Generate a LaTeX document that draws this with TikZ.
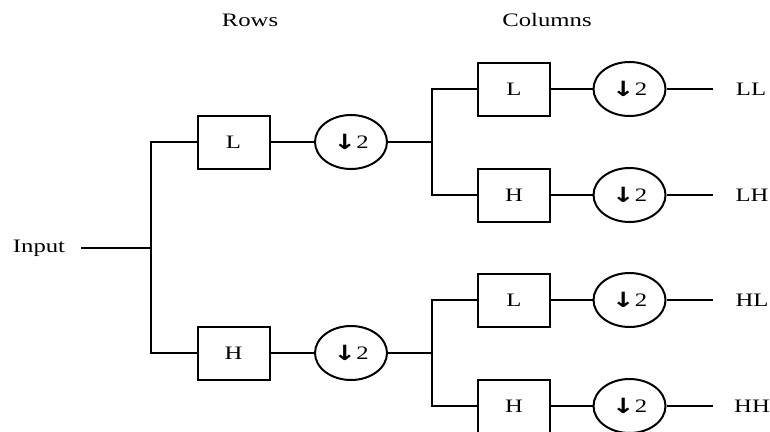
\documentclass[tikz,border=0pt]{standalone}
\usepackage{fontspec}
\setmainfont{Liberation Serif}
\newfontfamily\arrowfont{DejaVu Sans}
\usetikzlibrary{shapes.geometric}
\newcommand{\wide}[1]{\scalebox{1.3}[1]{#1}}
\newcommand{\dtwo}{\wide{\raisebox{-1pt}{\arrowfont\bfseries\fontsize{21}{22}\selectfont ↓}2}}
\begin{document}
\begin{tikzpicture}[x=1pt,y=-1pt,
  every node/.style={font=\fontsize{19}{22}\selectfont, text=black},
  filt/.style={draw=black, line width=2pt, minimum width=72pt, minimum height=53pt, inner sep=0pt},
  down/.style={draw=black, ellipse, line width=2pt, minimum width=72pt, minimum height=54pt, inner sep=0pt},
  lbl/.style={inner sep=0pt},
  wire/.style={line width=2pt}]
\useasboundingbox (0,0) rectangle (770,431);
% titles
\node[lbl] (rows) at (250,20) {\wide{Rows}};
\node[lbl] (cols) at (547,20) {\wide{Columns}};
% input
\node[lbl] (inp) at (39,248) {\wide{Input}};
\coordinate (instart) at (81,248);
\coordinate (s1) at (151,248);
% row stage
\node[filt] (rL) at (233.5,142) {\wide{L}};
\node[filt] (rH) at (233.5,353) {\wide{H}};
\node[down] (rd1) at (351,142) {\dtwo};
\node[down] (rd2) at (351,353) {\dtwo};
\coordinate (s2) at (432,142);
\coordinate (s3) at (432,353);
% column stage
\node[filt] (cLL) at (514,89) {\wide{L}};
\node[filt] (cLH) at (514,195) {\wide{H}};
\node[filt] (cHL) at (514,300) {\wide{L}};
\node[filt] (cHH) at (514,406) {\wide{H}};
\node[down] (dLL) at (629.5,89) {\dtwo};
\node[down] (dLH) at (629.5,195) {\dtwo};
\node[down] (dHL) at (629.5,300) {\dtwo};
\node[down] (dHH) at (629.5,406) {\dtwo};
\coordinate (eLL) at (713,89);
\coordinate (eLH) at (713,195);
\coordinate (eHL) at (713,300);
\coordinate (eHH) at (713,406);
\node[lbl] (oLL) at (751,89) {\wide{LL}};
\node[lbl] (oLH) at (752,195) {\wide{LH}};
\node[lbl] (oHL) at (752,300) {\wide{HL}};
\node[lbl] (oHH) at (752,406) {\wide{HH}};
% wires
\draw[wire] (instart) -- (s1);
\draw[wire] (rL.west) -| (s1) |- (rH.west);
\draw[wire] (rL) -- (rd1);
\draw[wire] (rH) -- (rd2);
\draw[wire] (rd1) -- (s2);
\draw[wire] (rd2) -- (s3);
\draw[wire] (cLL.west) -| (s2) |- (cLH.west);
\draw[wire] (cHL.west) -| (s3) |- (cHH.west);
\draw[wire] (cLL) -- (dLL);
\draw[wire] (cLH) -- (dLH);
\draw[wire] (cHL) -- (dHL);
\draw[wire] (cHH) -- (dHH);
\draw[wire] (dLL) -- (eLL);
\draw[wire] (dLH) -- (eLH);
\draw[wire] (dHL) -- (eHL);
\draw[wire] (dHH) -- (eHH);
\end{tikzpicture}
\end{document}
